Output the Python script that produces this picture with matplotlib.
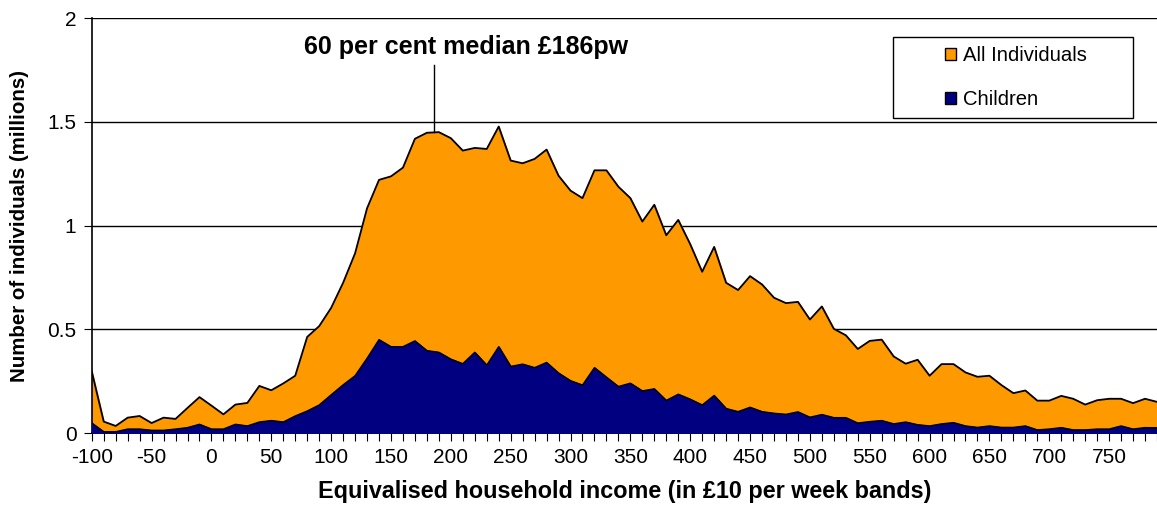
import numpy as np
import matplotlib
matplotlib.use('Agg')
import matplotlib.pyplot as plt
from matplotlib.patches import Patch, Rectangle

plt.rcParams['font.family'] = ['Liberation Sans', 'DejaVu Sans']
plt.rcParams['axes.unicode_minus'] = False

# income bands, £10 per week (lower edge), -100 .. 790
bands = list(range(-100, 800, 10))

all_individuals = [
    0.297, 0.055, 0.034, 0.074, 0.082, 0.048, 0.074, 0.068, 0.121, 0.173,
    0.132, 0.090, 0.137, 0.145, 0.227, 0.206, 0.239, 0.276, 0.463, 0.515,
    0.603, 0.724, 0.866, 1.083, 1.220, 1.237, 1.279, 1.418, 1.447, 1.450,
    1.421, 1.361, 1.374, 1.369, 1.477, 1.313, 1.300, 1.321, 1.366, 1.240,
    1.168, 1.132, 1.266, 1.266, 1.187, 1.132, 1.019, 1.100, 0.953, 1.027,
    0.910, 0.777, 0.897, 0.724, 0.689, 0.756, 0.716, 0.652, 0.626, 0.632,
    0.547, 0.610, 0.502, 0.471, 0.405, 0.444, 0.450, 0.369, 0.334, 0.353,
    0.276, 0.332, 0.332, 0.292, 0.271, 0.276, 0.231, 0.192, 0.205, 0.156,
    0.156, 0.179, 0.165, 0.137, 0.158, 0.165, 0.165, 0.144, 0.165, 0.150,
]

children = [
    0.048, 0.006, 0.006, 0.019, 0.019, 0.013, 0.013, 0.019, 0.026, 0.042,
    0.019, 0.019, 0.042, 0.034, 0.053, 0.060, 0.053, 0.082, 0.106, 0.135,
    0.184, 0.232, 0.276, 0.360, 0.450, 0.416, 0.416, 0.444, 0.397, 0.389,
    0.356, 0.334, 0.389, 0.327, 0.416, 0.321, 0.332, 0.315, 0.340, 0.289,
    0.252, 0.231, 0.315, 0.269, 0.224, 0.240, 0.203, 0.213, 0.157, 0.187,
    0.163, 0.135, 0.181, 0.118, 0.103, 0.124, 0.103, 0.095, 0.090, 0.102,
    0.076, 0.089, 0.074, 0.074, 0.048, 0.055, 0.060, 0.044, 0.053, 0.040,
    0.034, 0.044, 0.050, 0.034, 0.027, 0.034, 0.027, 0.027, 0.034, 0.015,
    0.019, 0.026, 0.015, 0.015, 0.019, 0.019, 0.034, 0.019, 0.026, 0.025,
]

median_60 = 186
median_label = '60 per cent median £186pw'

ORANGE = '#FF9900'
NAVY = '#000080'

fig = plt.figure(figsize=(11.57, 5.09), dpi=100)
ax = fig.add_axes([0.0793, 0.1493, 0.9207, 0.8153])

x = np.array(bands)
ax.fill_between(x, 0, all_individuals, color=ORANGE, zorder=2)
ax.plot(x, all_individuals, color='black', lw=1.3, zorder=3)
ax.fill_between(x, 0, children, color=NAVY, zorder=4)
ax.plot(x, children, color='black', lw=1.0, zorder=5)

ax.set_xlim(-100, 783.5)
ax.set_ylim(0, 2)

for yv in [0.5, 1.0, 1.5, 2.0]:
    ax.axhline(yv, color='black', lw=1.0, zorder=1)

# median marker
ytop = np.interp(median_60, x, all_individuals)
ax.plot([median_60, median_60], [ytop, 1.775], color='black', lw=1.0, zorder=6)
ax.text(213, 1.86, median_label, ha='center', va='center',
        fontsize=18, fontweight='bold')

for s in ['top', 'right']:
    ax.spines[s].set_visible(False)
ax.spines['left'].set_linewidth(1.2)
ax.spines['bottom'].set_linewidth(1.2)

ax.set_xticks(range(-100, 751, 50))
ax.set_xticks(bands, minor=True)
ax.tick_params(axis='x', which='both', direction='out', length=6, width=0.8,
               labelsize=15, pad=5)
ax.set_yticks([0, 0.5, 1, 1.5, 2])
ax.set_yticklabels(['0', '0.5', '1', '1.5', '2'])
ax.tick_params(axis='y', direction='out', length=6, width=0.8, labelsize=15, pad=5)

ax.set_xlabel('Equivalised household income (in £10 per week bands)',
              fontsize=16.8, fontweight='bold', labelpad=9)
ax.set_ylabel('Number of individuals (millions)', fontsize=14.8,
              fontweight='bold', labelpad=13)

# legend with its own frame, as in the source chart
frame = Rectangle((893 / 1157, 1 - 118 / 509), 240 / 1157, 81 / 509,
                  transform=fig.transFigure, facecolor='white',
                  edgecolor='black', lw=1.0, zorder=9)
fig.patches.append(frame)
handles = [Patch(facecolor=ORANGE, edgecolor='black', label='All Individuals'),
           Patch(facecolor=NAVY, edgecolor='black', label='Children')]
leg = fig.legend(handles=handles, loc='upper left',
                 bbox_to_anchor=(945 / 1157, 1 - 46 / 509),
                 bbox_transform=fig.transFigure,
                 fontsize=14.6, frameon=False,
                 handlelength=0.55, handleheight=0.55, labelspacing=1.25,
                 borderpad=0, handletextpad=0.35, borderaxespad=0)
leg.set_zorder(10)

fig.savefig('out.png', dpi=100, facecolor='white')
